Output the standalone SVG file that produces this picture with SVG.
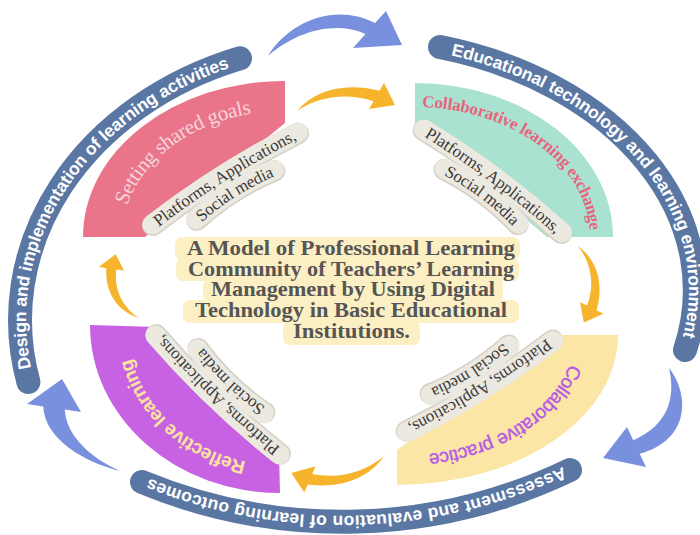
<svg xmlns="http://www.w3.org/2000/svg" width="700" height="535" viewBox="0 0 700 535">
<defs>
<style>
.band{fill:none;stroke:#5A77A3;stroke-width:24;stroke-linecap:round}
.btxt{font-family:"Liberation Sans",Arial,sans-serif;font-weight:bold;font-size:17.5px;fill:#ffffff}
.barrow{fill:#7990DE}
.yarrow{fill:#F6B42C}
.lbg{fill:none;stroke:#ECE9E0;stroke-width:20;stroke-linecap:round}
.lsh{fill:none;stroke:#D6D2C8;stroke-width:21.5;stroke-linecap:round}
.ltxt{font-family:"Liberation Serif","Times New Roman",serif;font-size:17px;fill:#3a3a3a}
.ctxt{font-family:"Liberation Serif","Times New Roman",serif;font-weight:bold;font-size:22px;fill:#555555;text-anchor:middle}
.hl{fill:#FCEFC3}
</style>
<!-- outer ring band centrelines -->
<path id="b1" d="M 28.4 382 A 332 278 0 0 1 240 58.3"/>
<path id="b2" d="M 440 47 A 345 252 0 0 1 685 350"/>
<path id="b3" d="M 570 470 A 525 525 0 0 1 142 482"/>
<!-- sector title baselines -->
<path id="t-pink" d="M 115 237 A 170 133 0 0 1 285 104"/>
<path id="t-teal" d="M 415 101 A 181 136 0 0 1 596 237"/>
<path id="t-yellow" d="M 582 335 A 185 128 0 0 1 397 463"/>
<path id="t-purple" d="M 280 472 A 160 147 0 0 1 120 325"/>
<!-- tag lines in local coordinates -->
<path id="lab1" d="M -86 0 Q 0 -8 86 0"/>
<path id="lab2" d="M -46 19 Q 0 11 46 19"/>
<!-- small curved arrow -->
<path id="yarrow" d="M 0 0 C 18 -21 48 -29 82.5 -20.2 L 87 -28 L 98 -6 L 72 -2 L 76.5 -9.8 C 48 -19 21 -14 0 0 Z"/>
</defs>

<rect width="700" height="535" fill="#ffffff"/>

<!-- outer ring -->
<g id="ring-design">
<use href="#b1" class="band"/>
<text class="btxt" dominant-baseline="central"><textPath href="#b1" startOffset="50%" text-anchor="middle">Design and implementation of learning activities</textPath></text>
</g>
<g id="ring-technology">
<use href="#b2" class="band"/>
<text class="btxt" dominant-baseline="central"><textPath href="#b2" startOffset="50%" text-anchor="middle">Educational technology and learning environment</textPath></text>
</g>
<g id="ring-assessment">
<use href="#b3" class="band"/>
<text class="btxt" dominant-baseline="central" letter-spacing="0.4"><textPath href="#b3" startOffset="50%" text-anchor="middle">Assessment and evaluation of learning outcomes</textPath></text>
</g>

<!-- sectors -->
<g id="sector-goals">
<path d="M 83 237 A 202 156 0 0 1 285 81 L 285 123 L 145 237 Z" fill="#EA7489"/>
<text font-family="'Liberation Serif','Times New Roman',serif" font-size="21" fill="#F7D4DC" dominant-baseline="central"><textPath href="#t-pink" startOffset="50%" text-anchor="middle">Setting shared goals</textPath></text>
</g>
<g id="sector-exchange">
<path d="M 415 83 A 198 154 0 0 1 613 237 L 547 237 L 415 125 Z" fill="#A9E2D0"/>
<text font-family="'Liberation Serif','Times New Roman',serif" font-weight="bold" font-size="17" fill="#E8647E" dominant-baseline="central"><textPath href="#t-teal" startOffset="50%" text-anchor="middle">Collaborative learning exchange</textPath></text>
</g>
<g id="sector-practice">
<path d="M 618 335 A 221 150 0 0 1 397 485 L 397 450 L 555 335 Z" fill="#FBE6A6"/>
<text font-family="'Liberation Sans',Arial,sans-serif" font-size="19" fill="#B65BE4" stroke="#B65BE4" stroke-width="0.45" dominant-baseline="central"><textPath href="#t-yellow" startOffset="50%" text-anchor="middle">Collaborative practice</textPath></text>
</g>
<g id="sector-reflective">
<path d="M 280 493 A 190 168 0 0 1 90 325 L 157 327 L 279 453 Z" fill="#C763E3"/>
<text font-family="'Liberation Sans',Arial,sans-serif" font-weight="bold" font-size="19" fill="#FCE3A0" dominant-baseline="central"><textPath href="#t-purple" startOffset="50%" text-anchor="middle">Reflective learning</textPath></text>
</g>

<!-- tags -->
<g id="tag-goals" transform="translate(225,178.5) rotate(-32.3)">
<use href="#lab1" class="lsh" y="1"/><use href="#lab2" class="lsh" y="1"/>
<use href="#lab1" class="lbg"/><use href="#lab2" class="lbg"/>
<text class="ltxt" dominant-baseline="central"><textPath href="#lab1" startOffset="50%" text-anchor="middle">Platforms, Applications,</textPath></text>
<text class="ltxt" dominant-baseline="central"><textPath href="#lab2" startOffset="50%" text-anchor="middle">Social media</textPath></text>
</g>
<g id="tag-exchange" transform="translate(493,181) rotate(36.7)">
<use href="#lab1" class="lsh" y="1"/><use href="#lab2" class="lsh" y="1"/>
<use href="#lab1" class="lbg"/><use href="#lab2" class="lbg"/>
<text class="ltxt" dominant-baseline="central"><textPath href="#lab1" startOffset="50%" text-anchor="middle">Platforms, Applications,</textPath></text>
<text class="ltxt" dominant-baseline="central"><textPath href="#lab2" startOffset="50%" text-anchor="middle">Social media</textPath></text>
</g>
<g id="tag-practice" transform="translate(480,386.5) rotate(148.1)">
<use href="#lab1" class="lsh" y="1"/><use href="#lab2" class="lsh" y="1"/>
<use href="#lab1" class="lbg"/><use href="#lab2" class="lbg"/>
<text class="ltxt" dominant-baseline="central"><textPath href="#lab1" startOffset="50%" text-anchor="middle">Platforms, Applications,</textPath></text>
<text class="ltxt" dominant-baseline="central"><textPath href="#lab2" startOffset="50%" text-anchor="middle">Social media</textPath></text>
</g>
<g id="tag-reflective" transform="translate(217.5,395) rotate(-136.2)">
<use href="#lab1" class="lsh" y="1"/><use href="#lab2" class="lsh" y="1"/>
<use href="#lab1" class="lbg"/><use href="#lab2" class="lbg"/>
<text class="ltxt" dominant-baseline="central"><textPath href="#lab1" startOffset="50%" text-anchor="middle">Platforms, Applications,</textPath></text>
<text class="ltxt" dominant-baseline="central"><textPath href="#lab2" startOffset="50%" text-anchor="middle">Social media</textPath></text>
</g>

<!-- centre title -->
<g id="title">
<rect class="hl" x="175" y="237" width="345" height="23" rx="7"/>
<rect class="hl" x="176" y="258" width="343" height="23" rx="7"/>
<rect class="hl" x="203" y="279" width="300" height="23" rx="7"/>
<rect class="hl" x="183" y="300" width="336" height="23" rx="7"/>
<rect class="hl" x="283" y="321" width="137" height="24" rx="7"/>
<text class="ctxt" x="351" y="255" textLength="328" lengthAdjust="spacingAndGlyphs">A Model of Professional Learning</text>
<text class="ctxt" x="351" y="275.5" textLength="326" lengthAdjust="spacingAndGlyphs">Community of Teachers’ Learning</text>
<text class="ctxt" x="353" y="296" textLength="284" lengthAdjust="spacingAndGlyphs">Management by Using Digital</text>
<text class="ctxt" x="351" y="317" textLength="312" lengthAdjust="spacingAndGlyphs">Technology in Basic Educational</text>
<text class="ctxt" x="351.5" y="337.5" textLength="117" lengthAdjust="spacingAndGlyphs">Institutions.</text>
</g>

<!-- connectors -->
<g id="connectors">
<path class="barrow" d="M 268 56 C 288 22 335 2 375 23 L 386 11 L 402 45 L 353 48 L 365.5 34 C 335 20 295 32 268 56 Z"/>
<path class="barrow" d="M 669 368 C 690 395 690 440 639.7 453.8 L 646 467 L 603 458 L 627 427 L 633.3 440.2 C 668 425 676 398 669 368 Z"/>
<path class="barrow" d="M 120 471 C 85 462 45 440 43.2 406.4 L 27 404 L 62 379 L 81 412 L 64.8 409.6 C 66 435 90 458 120 471 Z"/>
<use href="#yarrow" class="yarrow" transform="translate(297,111)"/>
<use href="#yarrow" class="yarrow" transform="translate(578,246) rotate(89.7) scale(0.78,0.9)"/>
<use href="#yarrow" class="yarrow" transform="translate(384,456) rotate(173.1) scale(0.96,0.95)"/>
<use href="#yarrow" class="yarrow" transform="translate(139,318) rotate(254.5) scale(0.69,0.9)"/>
</g>
</svg>
